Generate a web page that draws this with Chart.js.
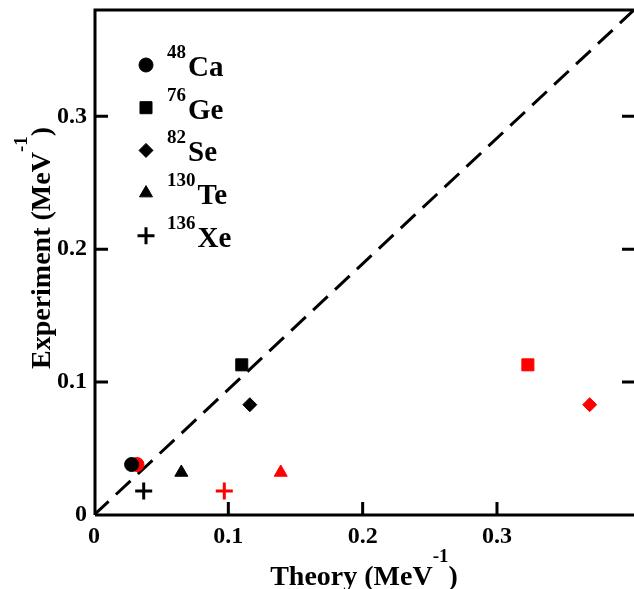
<!DOCTYPE html>
<html>
<head>
<meta charset="utf-8">
<title>Nuclear matrix elements</title>
<script src="https://cdn.jsdelivr.net/npm/chart.js@4.4.1/dist/chart.umd.min.js"></script>
<style>
  html, body { margin: 0; padding: 0; background: #fff; }
  #wrap { width: 634px; height: 589px; }
</style>
</head>
<body>
<div id="wrap"><canvas id="nmeChart" width="634" height="589"></canvas></div>
<script>
// one entry per nucleus
var massNumbers = ['48', '76', '82', '130', '136'];
var elements = ['Ca', 'Ge', 'Se', 'Te', 'Xe'];
var markers = ['circle', 'rect', 'rectRot', 'triangle', 'cross'];
var experiment = [0.038, 0.113, 0.083, 0.032, 0.018];
var theoryBlack = [0.028, 0.110, 0.116, 0.065, 0.037];
var theoryRed = [0.032, 0.323, 0.369, 0.139, 0.097];

var xTicks = [0, 0.1, 0.2, 0.3];
var yTicks = [0, 0.1, 0.2, 0.3];
var frameTicks = [0.1, 0.2, 0.3];
var guideX = [0, 0.402];
var guideY = [0, 0.38];

var serif = "'Liberation Serif', 'Times New Roman', serif";
var markerRadius = { circle: 7, rect: 8.5, rectRot: 7, triangle: 7.5, cross: 8.5 };

function pointsFor(xs) {
	var pts = [];
	for (var i = 0; i < xs.length; i++) {
		pts.push({ x: xs[i], y: experiment[i] });
	}
	return pts;
}

function markerDataset(label, x, y, style, color) {
	var cross = style == 'cross';
	return {
		label: label,
		data: [{ x: x, y: y }],
		pointStyle: style,
		pointRadius: markerRadius[style],
		pointHoverRadius: markerRadius[style],
		pointBackgroundColor: color,
		pointBorderColor: color,
		pointBorderWidth: cross ? 3 : 1,
		showLine: false
	};
}

var datasets = [];
var blackPts = pointsFor(theoryBlack);
var redPts = pointsFor(theoryRed);
// black first so they sit on top of the red ones
for (var i = 0; i < elements.length; i++) {
	datasets.push(markerDataset(massNumbers[i] + elements[i], blackPts[i].x, blackPts[i].y, markers[i], '#000'));
}
for (var i = 0; i < elements.length; i++) {
	datasets.push(markerDataset(massNumbers[i] + elements[i] + ' (red)', redPts[i].x, redPts[i].y, markers[i], '#ff0000'));
}
datasets.push({
	label: 'guide',
	type: 'line',
	data: [{ x: guideX[0], y: guideY[0] }, { x: guideX[1], y: guideY[1] }],
	borderColor: '#000',
	borderWidth: 3,
	borderDash: [20, 10],
	pointRadius: 0,
	fill: false
});

// text with a raised "-1" or mass number in it
function drawParts(ctx, parts, x, y) {
	var cx = x;
	for (var i = 0; i < parts.length; i++) {
		ctx.font = parts[i].font;
		ctx.fillText(parts[i].text, cx, y - (parts[i].rise || 0));
		cx += ctx.measureText(parts[i].text).width + (parts[i].gap || 0);
	}
}

function partsWidth(ctx, parts) {
	var w = 0;
	for (var i = 0; i < parts.length; i++) {
		ctx.font = parts[i].font;
		w += ctx.measureText(parts[i].text).width + (parts[i].gap || 0);
	}
	return w;
}

var framePlugin = {
	id: 'frame',
	afterDraw: function(chart) {
		var ctx = chart.ctx;
		var a = chart.chartArea;
		var xs = chart.scales.x, ys = chart.scales.y;
		ctx.save();
		ctx.strokeStyle = '#000';
		ctx.lineWidth = 3;
		ctx.beginPath();
		ctx.moveTo(a.left + 1, a.bottom);
		ctx.lineTo(a.right + 3, a.bottom);
		ctx.moveTo(a.left + 1, a.bottom);
		ctx.lineTo(a.left + 1, a.top);
		ctx.lineTo(a.right + 3, a.top);
		ctx.stroke();

		// inward ticks: left, right, bottom
		ctx.beginPath();
		for (var i = 0; i < frameTicks.length; i++) {
			var py = ys.getPixelForValue(frameTicks[i]);
			ctx.moveTo(a.left, py);
			ctx.lineTo(a.left + 14, py);
			ctx.moveTo(a.right - 12, py);
			ctx.lineTo(a.right + 2, py);
			var px = xs.getPixelForValue(frameTicks[i]);
			ctx.moveTo(px, a.bottom);
			ctx.lineTo(px, a.bottom - 13);
		}
		ctx.stroke();

		ctx.fillStyle = '#000';
		ctx.textBaseline = 'alphabetic';
		ctx.textAlign = 'left';
		var big = 'bold 28px ' + serif;
		var sup = 'bold 19px ' + serif;

		// axis titles
		var xt = [{ text: 'Theory (MeV', font: big }, { text: '-1', font: sup, rise: 23 }, { text: ')', font: big }];
		drawParts(ctx, xt, 364 - partsWidth(ctx, xt) / 2, 585);

		var yt = [{ text: 'Experiment (MeV', font: big }, { text: '-1', font: sup, rise: 23 }, { text: ')', font: big }];
		ctx.save();
		ctx.translate(50, 248);
		ctx.rotate(-Math.PI / 2);
		drawParts(ctx, yt, -partsWidth(ctx, yt) / 2, 0);
		ctx.restore();

		// legend
		var legFont = 'bold 29px ' + serif;
		for (var i = 0; i < elements.length; i++) {
			var base = 76 + i * 42.7;
			var ds = chart.data.datasets[i];
			var opts = {
				pointStyle: ds.pointStyle,
				radius: ds.pointRadius,
				borderWidth: ds.pointBorderWidth,
				rotation: 0
			};
			ctx.fillStyle = '#000';
			ctx.strokeStyle = '#000';
			ctx.lineWidth = ds.pointBorderWidth;
			Chart.helpers.drawPoint(ctx, opts, 146, base - 11);
			ctx.fillStyle = '#000';
			drawParts(ctx, [
				{ text: massNumbers[i], font: sup, rise: 18, gap: 2 },
				{ text: elements[i], font: legFont }
			], 167, base);
		}
		ctx.restore();
	}
};

var ctx = document.getElementById('nmeChart').getContext('2d');
var chart = new Chart(ctx, {
	type: 'scatter',
	data: { datasets: datasets },
	options: {
		responsive: false,
		animation: false,
		devicePixelRatio: 1,
		layout: { autoPadding: false, padding: { top: 10, right: 0, left: 0, bottom: 0 } },
		plugins: {
			legend: { display: false },
			tooltip: { enabled: false }
		},
		scales: {
			x: {
				type: 'linear',
				min: 0,
				max: guideX[1],
				afterBuildTicks: function(s) { s.ticks = xTicks.map(function(v) { return { value: v }; }); },
				afterFit: function(s) { s.height = 74; s.paddingLeft = 0; s.paddingRight = 0; },
				grid: { display: false, drawTicks: false },
				border: { display: false },
				ticks: {
					color: '#000',
					padding: 7,
					font: { family: serif, size: 24, weight: 'bold' },
					maxRotation: 0
				}
			},
			y: {
				type: 'linear',
				min: 0,
				max: guideY[1],
				afterBuildTicks: function(s) { s.ticks = yTicks.map(function(v) { return { value: v }; }); },
				afterFit: function(s) { s.width = 94; s.paddingTop = 0; s.paddingBottom = 0; },
				grid: { display: false, drawTicks: false },
				border: { display: false },
				ticks: {
					color: '#000',
					padding: 7,
					font: { family: serif, size: 24, weight: 'bold' }
				}
			}
		}
	},
	plugins: [framePlugin]
});
</script>
</body>
</html>
